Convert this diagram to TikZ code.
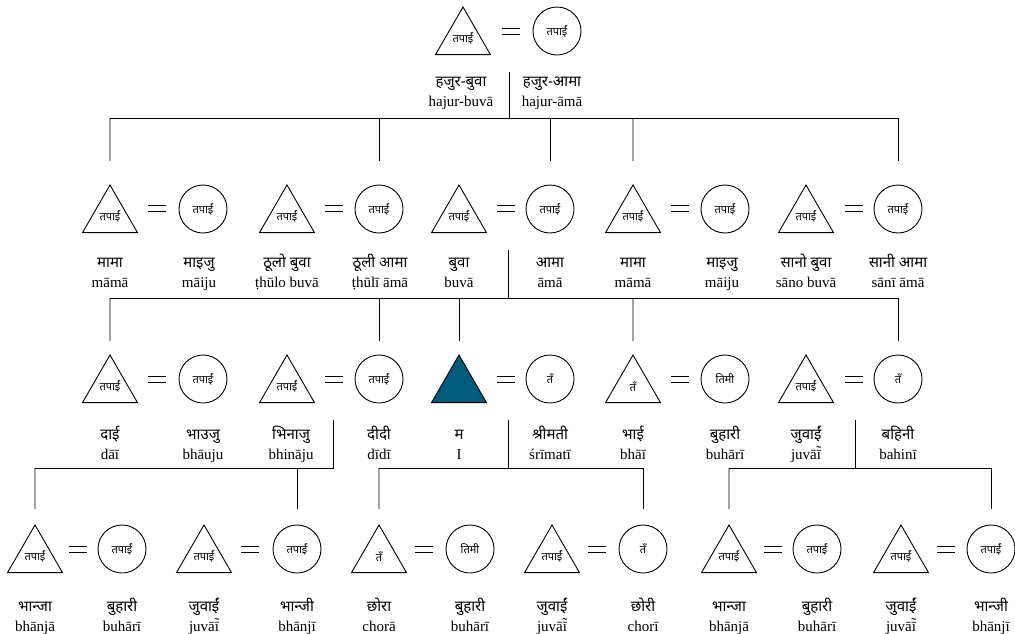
\documentclass[tikz,border=0pt]{standalone}
\usepackage{fontspec}
\setmainfont{Liberation Serif}
\newfontfamily\dev[Script=Devanagari]{Noto Sans}
\usetikzlibrary{shapes.geometric}
\definecolor{egoteal}{RGB}{0,92,122}
\newcommand{\kinterm}[2]{\strut{\dev #1}\\\strut #2}
\newcommand{\itilde}{\ooalign{ī\cr\hidewidth\raisebox{0.2em}{˜}\hidewidth\cr}}

\begin{document}
\begin{tikzpicture}[
        x=1pt, y=-1pt,
        line width=0.9pt,
        male/.style={draw, regular polygon, regular polygon sides=3, minimum size=63.5pt,
            inner sep=0pt, outer sep=0pt, font=\dev\fontsize{11}{11}\selectfont},
        female/.style={draw, circle, minimum size=48pt, inner sep=0pt, outer sep=0pt,
            font=\dev\fontsize{11}{11}\selectfont},
        ego/.style={male, fill=egoteal},
        wed/.style={minimum width=18pt, minimum height=6pt, inner sep=0pt, outer sep=0pt,
            append after command={(\tikzlastnode.north west) edge (\tikzlastnode.north east)
                (\tikzlastnode.south west) edge (\tikzlastnode.south east)}},
        term/.style={anchor=north, align=center, inner sep=0pt, font=\fontsize{15}{20}\selectfont},
        drop/.style={shorten >=#1}
    ]
    \useasboundingbox (0,0) rectangle (1015,633);

    % grandparents
    \node[male] (hbuva) at (463,38.75) {तपाईं};
    \node[wed] (e0) at (511,31) {};
    \node[female] (hama) at (557,31) {तपाईं};
    \node[term] (t-hbuva) at (461,72) {\kinterm{हजुर-बुवा}{hajur-buvā}};
    \node[term] (t-hama) at (552,72) {\kinterm{हजुर-आमा}{hajur-āmā}};

    % parents
    \node[male] (mama1) at (110,216.75) {तपाईं};
    \node[wed] (e1) at (157,208) {};
    \node[female] (maiju1) at (203,209) {तपाईं};
    \node[male] (thbuva) at (287,216.75) {तपाईं};
    \node[wed] (e2) at (334,208) {};
    \node[female] (thama) at (379,209) {तपाईं};
    \node[male] (buva) at (459,216.75) {तपाईं};
    \node[wed] (e3) at (506,208) {};
    \node[female] (ama) at (550,209) {तपाईं};
    \node[male] (mama2) at (633,216.75) {तपाईं};
    \node[wed] (e4) at (680,208) {};
    \node[female] (maiju2) at (725,209) {तपाईं};
    \node[male] (sbuva) at (806,216.75) {तपाईं};
    \node[wed] (e5) at (854,208) {};
    \node[female] (sama) at (898,209) {तपाईं};

    \node[term] (t-mama1) at (110,253) {\kinterm{मामा}{māmā}};
    \node[term] (t-maiju1) at (199,253) {\kinterm{माइजु}{māiju}};
    \node[term] (t-thbuva) at (287,253) {\kinterm{ठूलो बुवा}{ṭhūlo buvā}};
    \node[term] (t-thama) at (380,253) {\kinterm{ठूली आमा}{ṭhūlī āmā}};
    \node[term] (t-buva) at (459,253) {\kinterm{बुवा}{buvā}};
    \node[term] (t-ama) at (550,253) {\kinterm{आमा}{āmā}};
    \node[term] (t-mama2) at (633,253) {\kinterm{मामा}{māmā}};
    \node[term] (t-maiju2) at (722,253) {\kinterm{माइजु}{māiju}};
    \node[term] (t-sbuva) at (806,253) {\kinterm{सानो बुवा}{sāno buvā}};
    \node[term] (t-sama) at (898,253) {\kinterm{सानी आमा}{sānī āmā}};

    % ego's generation
    \node[male] (dai) at (110,386.75) {तपाईं};
    \node[wed] (e6) at (157,379) {};
    \node[female] (bhauju) at (203,379) {तपाईं};
    \node[male] (bhinaju) at (287,386.75) {तपाईं};
    \node[wed] (e7) at (334,379) {};
    \node[female] (didi) at (379,379) {तपाईं};
    \node[ego] (me) at (459,386.75) {};
    \node[wed] (e8) at (506,379) {};
    \node[female] (srimati) at (550,379) {तँ};
    \node[male] (bhai) at (633,386.75) {तँ};
    \node[wed] (e9) at (680,379) {};
    \node[female] (buhari) at (725,379) {तिमी};
    \node[male] (juvai) at (806,386.75) {तपाईं};
    \node[wed] (e10) at (854,379) {};
    \node[female] (bahini) at (898,379) {तँ};

    \node[term] (t-dai) at (110,425) {\kinterm{दाई}{dāī}};
    \node[term] (t-bhauju) at (203,425) {\kinterm{भाउजु}{bhāuju}};
    \node[term] (t-bhinaju) at (291,425) {\kinterm{भिनाजु}{bhināju}};
    \node[term] (t-didi) at (379,425) {\kinterm{दीदी}{dīdī}};
    \node[term] (t-me) at (459,425) {\kinterm{म}{I}};
    \node[term] (t-srimati) at (550,425) {\kinterm{श्रीमती}{śrīmatī}};
    \node[term] (t-bhai) at (633,425) {\kinterm{भाई}{bhāī}};
    \node[term] (t-buhari) at (725,425) {\kinterm{बुहारी}{buhārī}};
    \node[term] (t-juvai) at (806,425) {\kinterm{जुवाईं}{juvā\itilde}};
    \node[term] (t-bahini) at (898,425) {\kinterm{बहिनी}{bahinī}};

    % children
    \node[male] (bhanja1) at (35,556.75) {तपाईं};
    \node[wed] (e11) at (78,549) {};
    \node[female] (buhari1) at (122,549) {तपाईं};
    \node[male] (juvai1) at (204,556.75) {तपाईं};
    \node[wed] (e12) at (250,549) {};
    \node[female] (bhanji1) at (297,549) {तपाईं};
    \node[male] (chora) at (379,556.75) {तँ};
    \node[wed] (e13) at (424,549) {};
    \node[female] (buhari2) at (470,549) {तिमी};
    \node[male] (juvai2) at (552,556.75) {तपाईं};
    \node[wed] (e14) at (597,549) {};
    \node[female] (chori) at (643,549) {तँ};
    \node[male] (bhanja2) at (729,556.75) {तपाईं};
    \node[wed] (e15) at (773,549) {};
    \node[female] (buhari3) at (817,549) {तपाईं};
    \node[male] (juvai3) at (901,556.75) {तपाईं};
    \node[wed] (e16) at (946,549) {};
    \node[female] (bhanji2) at (991,549) {तपाईं};

    \node[term] (t-bhanja1) at (35,597) {\kinterm{भान्जा}{bhānjā}};
    \node[term] (t-buhari1) at (122,597) {\kinterm{बुहारी}{buhārī}};
    \node[term] (t-juvai1) at (204,597) {\kinterm{जुवाईं}{juvā\itilde}};
    \node[term] (t-bhanji1) at (297,597) {\kinterm{भान्जी}{bhānjī}};
    \node[term] (t-chora) at (379,597) {\kinterm{छोरा}{chorā}};
    \node[term] (t-buhari2) at (470,597) {\kinterm{बुहारी}{buhārī}};
    \node[term] (t-juvai2) at (552,597) {\kinterm{जुवाईं}{juvā\itilde}};
    \node[term] (t-chori) at (643,597) {\kinterm{छोरी}{chorī}};
    \node[term] (t-bhanja2) at (729,597) {\kinterm{भान्जा}{bhānjā}};
    \node[term] (t-buhari3) at (817,597) {\kinterm{बुहारी}{buhārī}};
    \node[term] (t-juvai3) at (901,597) {\kinterm{जुवाईं}{juvā\itilde}};
    \node[term] (t-bhanji2) at (991,597) {\kinterm{भान्जी}{bhānjī}};

    % descent lines
    \coordinate (w0) at (509,72);
    \coordinate (b0) at (509,118);
    \draw (w0) -- (b0);
    \draw (b0 -| mama1) -- (b0 -| sama);
    \foreach \k in {mama1,thama,ama,mama2,sama}
        \draw[drop=24pt] (b0 -| \k) -- (\k);

    \coordinate (w1) at (508,250);
    \coordinate (b1) at (508,298);
    \draw (w1) -- (b1);
    \draw (b1 -| dai) -- (b1 -| bahini);
    \foreach \k in {dai,didi,me,bhai,bahini}
        \draw[drop=14pt] (b1 -| \k) -- (\k);

    \coordinate (w2) at (333,420);
    \coordinate (b2) at (333,468);
    \draw (w2) -- (b2) -- (b2 -| bhanja1);
    \foreach \k in {bhanja1,bhanji1}
        \draw[drop=16pt] (b2 -| \k) -- (\k);

    \coordinate (w3) at (508,420);
    \coordinate (b3) at (508,468);
    \draw (w3) -- (b3);
    \draw (b3 -| chora) -- (b3 -| chori);
    \foreach \k in {chora,chori}
        \draw[drop=16pt] (b3 -| \k) -- (\k);

    \coordinate (w4) at (855,420);
    \coordinate (b4) at (855,468);
    \draw (w4) -- (b4);
    \draw (b4 -| bhanja2) -- (b4 -| bhanji2);
    \foreach \k in {bhanja2,bhanji2}
        \draw[drop=16pt] (b4 -| \k) -- (\k);
\end{tikzpicture}
\end{document}
